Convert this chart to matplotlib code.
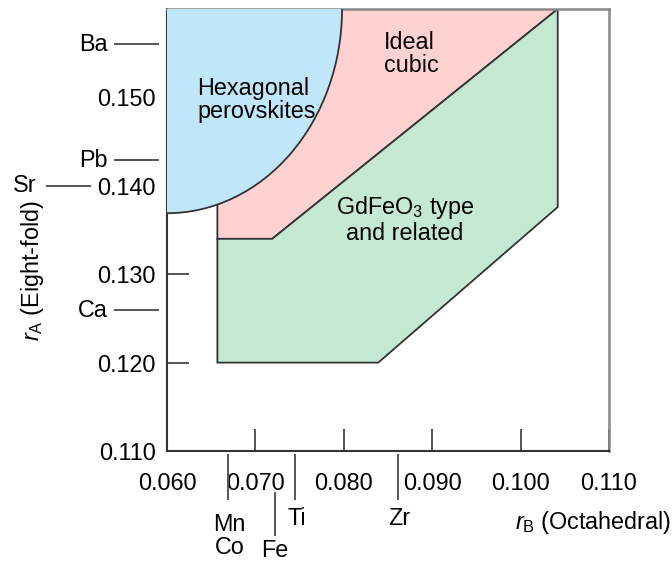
import numpy as np
import matplotlib
matplotlib.use('Agg')
import matplotlib.pyplot as plt
from matplotlib.patches import Polygon, Ellipse
from matplotlib.transforms import blended_transform_factory

plt.rcParams['font.family'] = ['Liberation Sans', 'DejaVu Sans']
plt.rcParams['mathtext.fontset'] = 'custom'
plt.rcParams['mathtext.rm'] = 'Liberation Sans'
plt.rcParams['mathtext.it'] = 'Liberation Sans:italic'
plt.rcParams['font.size'] = 16.8

# axis ranges and ticks
x_ticks = [0.060, 0.070, 0.080, 0.090, 0.100, 0.110]
y_ticks = [0.110, 0.120, 0.130, 0.140, 0.150]
x_lim = (0.060, 0.110)
y_lim = (0.110, 0.160)

# ionic radii marked along the axes
a_ions = ['Ba', 'Pb', 'Sr', 'Ca']
a_radii = [0.1560, 0.1429, 0.1400, 0.1259]
b_ions = ['Mn\nCo', 'Fe', 'Ti', 'Zr']
b_radii = [0.0669, 0.0722, 0.0745, 0.0861]

# region boundaries
hex_top_x = 0.0798      # hexagonal boundary meets the top
hex_left_y = 0.1369     # hexagonal boundary meets the left axis
cubic_x = [0.0657, 0.0719, 0.1042, 0.0657]
cubic_y = [0.1340, 0.1340, 0.1600, 0.1600]
gdfeo3_x = [0.0657, 0.0719, 0.1042, 0.1042, 0.0839, 0.0657]
gdfeo3_y = [0.1340, 0.1340, 0.1600, 0.1376, 0.1200, 0.1200]

c_blue = '#c0e7f9'
c_pink = '#ffd1d1'
c_green = '#c5e8d3'
edge = '#333333'

fig = plt.figure(figsize=(6.72, 5.63), dpi=100)
ax = fig.add_axes([167/672, 1 - 451/563, 442/672, 442/563])
ax.set_xlim(*x_lim)
ax.set_ylim(*y_lim)

ax.add_patch(Polygon(np.column_stack([cubic_x, cubic_y]), closed=True,
                     facecolor=c_pink, edgecolor=edge, lw=1.3, zorder=1))
ax.add_patch(Polygon(np.column_stack([gdfeo3_x, gdfeo3_y]), closed=True,
                     facecolor=c_green, edgecolor=edge, lw=1.3, zorder=2))
ax.add_patch(Ellipse((x_lim[0], y_lim[1]), 2*(hex_top_x - x_lim[0]),
                     2*(y_lim[1] - hex_left_y), facecolor=c_blue,
                     edgecolor=edge, lw=1.3, zorder=3))

ax.text(0.0634, 0.1497, 'Hexagonal\nperovskites', ha='left', va='center',
        linespacing=1.0, zorder=5)
ax.text(0.0845, 0.1549, 'Ideal\ncubic', ha='left', va='center',
        linespacing=1.0, zorder=5)
ax.text(0.0869, 0.1362, 'GdFeO$_3$ type\nand related', ha='center', va='center',
        linespacing=1.05, zorder=5)

ax.set_xticks(x_ticks)
ax.set_yticks(y_ticks)
ax.set_xticklabels(['%.3f' % v for v in x_ticks])
ax.set_yticklabels(['%.3f' % v for v in y_ticks])
ax.tick_params(direction='in', length=16, width=1.4, color='#555555')
ax.tick_params(axis='x', pad=15)
ax.tick_params(axis='y', pad=8)
for side in ['left', 'bottom']:
    ax.spines[side].set_color('#333333')
    ax.spines[side].set_linewidth(1.5)
for side in ['top', 'right']:
    ax.spines[side].set_color('#888888')
    ax.spines[side].set_linewidth(1.8)

# A-site ions (left side)
ty = blended_transform_factory(ax.transAxes, ax.transData)
for ion, r in zip(a_ions, a_radii):
    if ion == 'Sr':
        ax.plot([-0.272, -0.175], [r, r], color='#555555', lw=1.4,
                transform=ty, clip_on=False)
        ax.text(-0.323, r, ion, transform=ty, ha='center', va='center')
    else:
        ax.plot([-0.118, -0.020], [r, r], color='#555555', lw=1.4,
                transform=ty, clip_on=False)
        ax.text(-0.135, r, ion, transform=ty, ha='right', va='center')

# B-site ions (bottom)
tx = blended_transform_factory(ax.transData, ax.transAxes)
for ion, r in zip(b_ions, b_radii):
    if ion == 'Fe':
        ax.plot([r, r], [-0.094, -0.190], color='#555555', lw=1.4,
                transform=tx, clip_on=False)
        ax.text(r, -0.224, ion, transform=tx, ha='center', va='center')
    elif ion == 'Mn\nCo':
        ax.plot([r, r], [-0.010, -0.108], color='#555555', lw=1.4,
                transform=tx, clip_on=False)
        ax.text(r + 0.0002, -0.192, ion, transform=tx, ha='center',
                va='center', linespacing=1.0)
    else:
        ax.plot([r, r], [-0.010, -0.108], color='#555555', lw=1.4,
                transform=tx, clip_on=False)
        ax.text(r + 0.0002, -0.152, ion, transform=tx, ha='center', va='center')

fig.text(0.999, 1 - 523/563, r'$r_{\rm B}$ (Octahedral)', ha='right', va='center')
fig.text(33/672, 1 - 271/563, r'$r_{\rm A}$ (Eight-fold)', ha='center',
         va='center', rotation=90)

fig.savefig('out.png', dpi=100)
